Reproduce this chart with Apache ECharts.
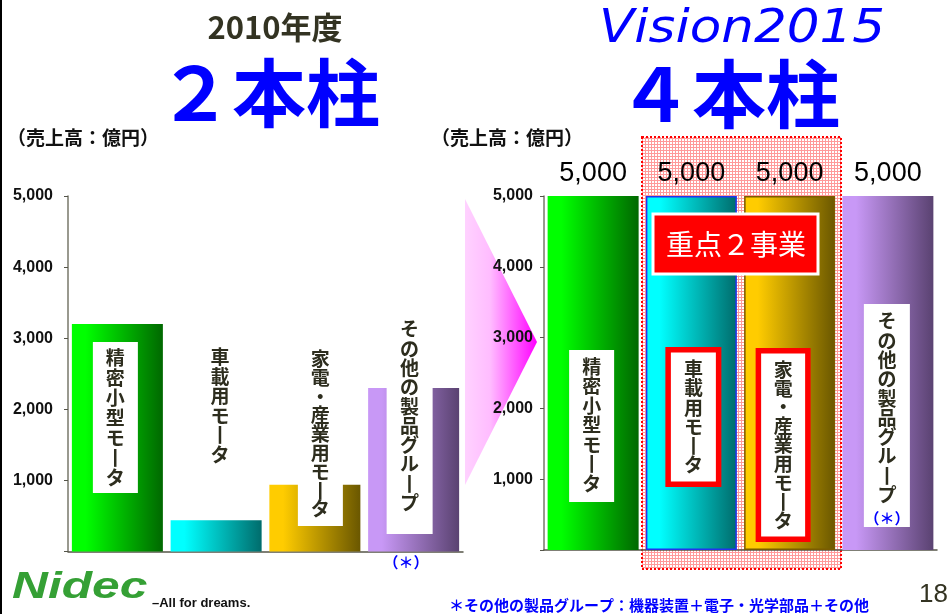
<!DOCTYPE html>
<html>
<head>
<meta charset="utf-8">
<script src="https://cdn.jsdelivr.net/npm/echarts@6/dist/echarts.min.js"></script>
<style>
html, body { margin: 0; padding: 0; background: #fff; }
#chart { width: 951px; height: 614px; }
</style>
</head>
<body>
<div id="chart"></div>
<script>
// data
const categories = ['精密小型モータ', '車載用モータ', '家電・産業用モータ', 'その他の製品グループ'];
const sales2010 = [3200, 440, 940, 2300];
const sales2015 = [5000, 5000, 5000, 5000];
const yTicks = ['', '1,000', '2,000', '3,000', '4,000', '5,000'];
const barColors = [['#00ff00', '#006800'], ['#00ffff', '#006c6c'], ['#ffcc00', '#6a5700'], ['#c898f6', '#5a4271']];

const JP = '"Noto Sans CJK JP", sans-serif';
const LAT = '"Liberation Sans", Arial, sans-serif';
const TXT = '#2d2d1e';

const chart = echarts.init(document.getElementById('chart'));

function grad(i) {
  return new echarts.graphic.LinearGradient(0, 0, 1, 0, [
    {offset: 0, color: barColors[i][0]},
    {offset: 0.15, color: barColors[i][0]},
    {offset: 1, color: barColors[i][1]}
  ]);
}
// vertical writing: one char per line, long vowel mark turned upright
function vert(s) {
  return s.split('').map(c => c === 'ー' ? '丨' : c).join('\n');
}

const xAx = idx => ({
  gridIndex: idx, type: 'category', data: categories,
  axisLine: {lineStyle: {color: '#555548', width: 1.5}},
  axisTick: {show: false}, axisLabel: {show: false}
});
const yAx = (idx, margin) => ({
  gridIndex: idx, type: 'value', min: 0, max: 5000, interval: 1000,
  axisLine: {show: true, lineStyle: {color: '#77776a', width: 1.5}},
  axisTick: {show: true, length: 4, lineStyle: {color: '#55554a'}},
  splitLine: {show: false},
  axisLabel: {
    margin: margin, fontSize: 16, fontWeight: 'bold', color: '#111', fontFamily: LAT,
    formatter: v => yTicks[Math.round(v / 1000)]
  }
});

chart.setOption({
  animation: false,
  backgroundColor: '#fff',
  grid: [
    {left: 68, top: 196, width: 395, height: 355.5},
    {left: 544, top: 196, width: 393, height: 354}
  ],
  xAxis: [xAx(0), xAx(1)],
  yAxis: [yAx(0, 15), yAx(1, 11)],
  series: [
    {
      type: 'bar', xAxisIndex: 0, yAxisIndex: 0, barWidth: 91,
      data: sales2010.map((v, i) => ({value: v, itemStyle: {color: grad(i)}}))
    },
    {
      type: 'bar', xAxisIndex: 1, yAxisIndex: 1, barWidth: 91,
      data: sales2015.map((v, i) => ({
        value: v,
        itemStyle: {
          color: grad(i),
          borderColor: i === 1 ? '#2233ee' : (i === 2 ? '#7a5c00' : 'transparent'),
          borderWidth: (i === 1 || i === 2) ? 1.5 : 0
        }
      })),
      label: {
        show: true, position: 'top', distance: 9,
        fontSize: 27, color: '#000', fontFamily: LAT,
        formatter: p => p.value.toLocaleString('en-US')
      }
    }
  ]
});

// label boxes inside bars (layout, px)
const leftBoxes = [
  {dx: -2, w: 45, top: 342, bottom: 493, cy: 418, lh: 20},
  {dx: 4, w: 0, cy: 406, lh: 19.5},
  {dx: 5.5, w: 45, top: 340, bottom: 526, cy: 434, lh: 18.8},
  {dx: -4, w: 46, top: 312, bottom: 534, cy: 416, lh: 19.3}
];
const rightBoxes = [
  {dx: -1.5, w: 45, top: 350, bottom: 502, cy: 425, lh: 19.5},
  {dx: 2, w: 56, top: 347, bottom: 487, cy: 417, lh: 19.3, red: true},
  {dx: -6.5, w: 55, top: 348, bottom: 542, cy: 445, lh: 18.9, red: true},
  {dx: -1, w: 46, top: 304, bottom: 527, cy: 408, lh: 19.3}
];

const graphics = [];

// hatched "重点" area pattern
const pat = document.createElement('canvas');
pat.width = 3; pat.height = 3;
const pc = pat.getContext('2d');
pc.fillStyle = '#fff'; pc.fillRect(0, 0, 3, 3);
pc.fillStyle = '#ff9a9a'; pc.fillRect(0, 0, 3, 1); pc.fillRect(0, 0, 1, 3);

graphics.push({
  type: 'rect', z: 0,
  shape: {x: 642, y: 137, width: 199, height: 432},
  style: {fill: {image: pat, repeat: 'repeat'}, stroke: '#ff0000', lineWidth: 2, lineDash: [2, 2]}
});

// arrow
graphics.push({
  type: 'polygon', z: -1,
  shape: {points: [[465, 199], [537, 342], [465, 485]]},
  style: {fill: new echarts.graphic.LinearGradient(0, 0, 1, 0, [
    {offset: 0, color: '#ffd2ff'}, {offset: 0.35, color: '#ffbcff'}, {offset: 1, color: '#ff00ff'}
  ])}
});

function addBoxes(gridIdx, boxes) {
  categories.forEach((name, i) => {
    const b = boxes[i];
    const cx = chart.convertToPixel({gridIndex: gridIdx}, [i, 0])[0] + b.dx;
    if (b.w) {
      if (b.red) {
        graphics.push({
          type: 'rect', z: 10,
          shape: {x: cx - b.w / 2 + 2.75, y: b.top + 2.75, width: b.w - 5.5, height: b.bottom - b.top - 5.5},
          style: {fill: '#fff', stroke: '#ff0000', lineWidth: 5.5}
        });
      } else {
        graphics.push({
          type: 'rect', z: 10,
          shape: {x: cx - b.w / 2, y: b.top, width: b.w, height: b.bottom - b.top},
          style: {fill: '#fff'}
        });
      }
    }
    graphics.push({
      type: 'text', z: 11,
      style: {
        text: vert(name), x: cx, y: b.cy, align: 'center', verticalAlign: 'middle',
        fontSize: 19, fontWeight: 'bold', fontFamily: JP, fill: TXT, lineHeight: b.lh
      }
    });
  });
}
addBoxes(0, leftBoxes);
addBoxes(1, rightBoxes);

const txt = (text, x, y, o) => ({
  type: 'text', z: 12,
  style: Object.assign({text: text, x: x, y: y, align: 'center', verticalAlign: 'middle', fontFamily: JP}, o)
});

graphics.push(
  txt('（＊）', 406, 562, {fontSize: 15, fontWeight: 'bold', fill: '#0000ff'}),
  txt('（＊）', 887, 518, {fontSize: 15, fontWeight: 'bold', fill: '#0000ff'}),
  // red focus tag
  {
    type: 'rect', z: 12,
    shape: {x: 653, y: 214, width: 165, height: 60},
    style: {fill: '#ff0000', stroke: '#fff', lineWidth: 3}
  },
  txt('重点２事業', 736, 244, {fontSize: 28, fill: '#fff'}),
  // titles
  txt('2010年度', 275, 27, {fontSize: 31, fontWeight: 'bold', fill: '#333322'}),
  txt('２本柱', 269, 93, {fontSize: 74, fontWeight: 'bold', fill: '#0000ff'}),
  txt('４本柱', 729, 94, {fontSize: 74, fontWeight: 'bold', fill: '#0000ff'}),
  {
    type: 'text', z: 12, x: 742, y: 30, scaleX: 1.12,
    style: {text: 'Vision2015', x: 0, y: 0, align: 'center', verticalAlign: 'middle',
      fontSize: 46, fontStyle: 'italic', fontFamily: '"DejaVu Sans", sans-serif', fill: '#0000ff'}
  },
  txt('（売上高：億円）', 83, 138, {fontSize: 19, fontWeight: 'bold', fill: '#111'}),
  txt('（売上高：億円）', 507, 138, {fontSize: 19, fontWeight: 'bold', fill: '#111'}),
  // footer
  {
    type: 'text', z: 12, x: 12, y: 588, scaleX: 1.38,
    style: {text: 'Nidec', x: 0, y: 0, align: 'left', verticalAlign: 'middle',
      fontSize: 36, fontWeight: 'bold', fontStyle: 'italic', fontFamily: LAT, fill: '#35a035'}
  },
  txt('–All for dreams.', 152, 603, {align: 'left', fontSize: 13, fontWeight: 'bold', fontFamily: LAT, fill: '#111'}),
  txt('＊その他の製品グループ：機器装置＋電子・光学部品＋その他', 659, 605, {fontSize: 15, fontWeight: 'bold', fill: '#0000ff'}),
  txt('18', 948, 595, {align: 'right', fontSize: 26, fontFamily: LAT, fill: '#333322'}),
  // slide edge
  {type: 'rect', z: 12, shape: {x: 0, y: 0, width: 2, height: 614}, style: {fill: '#000'}}
);

chart.setOption({graphic: graphics});
</script>
</body>
</html>
